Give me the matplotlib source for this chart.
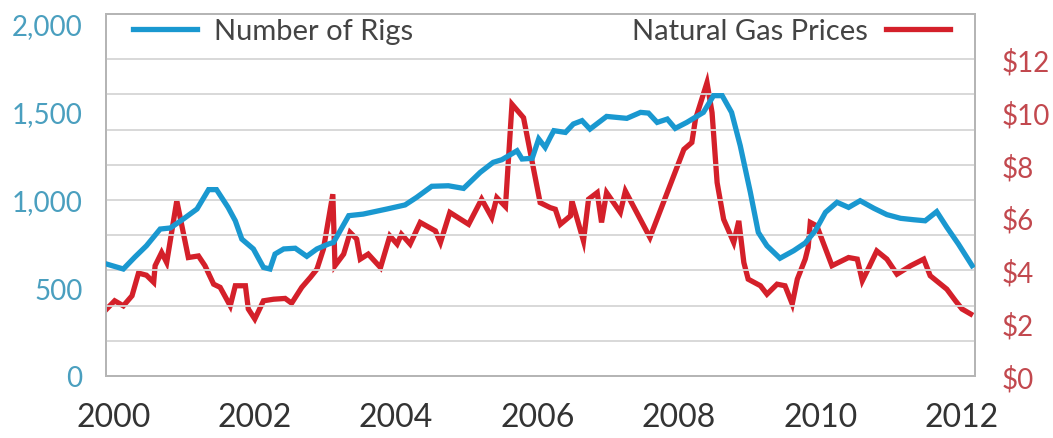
import matplotlib
matplotlib.use("Agg")
import matplotlib.pyplot as plt

plt.rcParams['font.family'] = ['Lato', 'DejaVu Sans']

# Rig count (left axis)
rig_years = [2000.01, 2000.24, 2000.40, 2000.56, 2000.75, 2000.89, 2001.07, 2001.26, 2001.42, 2001.53,
             2001.69, 2001.79, 2001.88, 2002.04, 2002.18, 2002.27, 2002.34, 2002.46, 2002.62, 2002.78,
             2002.92, 2003.08, 2003.15, 2003.36, 2003.56, 2003.89, 2004.14, 2004.30, 2004.51, 2004.74,
             2004.95, 2005.18, 2005.36, 2005.48, 2005.69, 2005.76, 2005.90, 2005.99, 2006.08, 2006.15,
             2006.20, 2006.36, 2006.47, 2006.59, 2006.70, 2006.93, 2007.21, 2007.40, 2007.51, 2007.63,
             2007.77, 2007.88, 2008.04, 2008.27, 2008.41, 2008.53, 2008.66, 2008.78, 2008.92, 2009.03,
             2009.15, 2009.33, 2009.52, 2009.68, 2009.82, 2009.96, 2010.12, 2010.28, 2010.44, 2010.63,
             2010.81, 2011.00, 2011.18, 2011.34, 2011.50, 2011.64, 2011.80, 2011.99]
rig_counts = [636, 608, 676, 740, 835, 841, 892, 949, 1059, 1059,
              958, 882, 778, 722, 617, 608, 693, 722, 726, 680,
              722, 750, 759, 911, 920, 949, 972, 1015, 1078, 1081,
              1066, 1157, 1214, 1229, 1280, 1233, 1237, 1347, 1299, 1356,
              1394, 1384, 1432, 1451, 1403, 1475, 1464, 1498, 1494, 1441,
              1460, 1407, 1441, 1498, 1593, 1593, 1498, 1309, 1044, 816,
              740, 669, 712, 756, 826, 930, 987, 958, 996, 953,
              917, 896, 888, 882, 934, 845, 750, 627]

# Natural gas price in $ (right axis)
gas_years = [2000.01, 2000.12, 2000.24, 2000.36, 2000.45, 2000.56, 2000.66, 2000.68, 2000.77, 2000.84,
             2000.98, 2001.14, 2001.28, 2001.37, 2001.49, 2001.58, 2001.72, 2001.79, 2001.93, 2001.97,
             2002.06, 2002.18, 2002.32, 2002.48, 2002.57, 2002.71, 2002.83, 2002.92, 2003.01, 2003.14,
             2003.17, 2003.29, 2003.38, 2003.47, 2003.52, 2003.63, 2003.80, 2003.93, 2004.03, 2004.09,
             2004.21, 2004.35, 2004.56, 2004.63, 2004.76, 2005.02, 2005.20, 2005.34, 2005.41, 2005.53,
             2005.62, 2005.78, 2006.01, 2006.15, 2006.22, 2006.29, 2006.43, 2006.45, 2006.61, 2006.68,
             2006.80, 2006.86, 2006.93, 2007.12, 2007.19, 2007.53, 2008.00, 2008.11, 2008.16, 2008.32,
             2008.39, 2008.46, 2008.55, 2008.69, 2008.76, 2008.83, 2008.89, 2009.06, 2009.15, 2009.29,
             2009.40, 2009.50, 2009.57, 2009.68, 2009.72, 2009.75, 2009.84, 2010.05, 2010.28, 2010.40,
             2010.47, 2010.56, 2010.67, 2010.81, 2010.95, 2011.14, 2011.32, 2011.41, 2011.64, 2011.76,
             2011.85, 2011.97]
gas_prices = [2.54, 2.85, 2.66, 3.04, 3.90, 3.82, 3.55, 4.18, 4.68, 4.30,
              6.64, 4.49, 4.55, 4.18, 3.48, 3.36, 2.66, 3.42, 3.42, 2.54,
              2.16, 2.85, 2.91, 2.94, 2.76, 3.36, 3.74, 4.05, 4.81, 6.89,
              4.18, 4.62, 5.44, 5.19, 4.43, 4.62, 4.11, 5.31, 5.00, 5.37,
              5.00, 5.82, 5.50, 5.06, 6.20, 5.75, 6.70, 6.01, 6.76, 6.42,
              10.30, 9.79, 6.57, 6.38, 6.32, 5.75, 6.07, 6.64, 5.12, 6.70,
              6.95, 5.82, 6.95, 6.20, 7.01, 5.25, 8.59, 8.85, 9.73, 11.12,
              9.98, 7.33, 5.94, 5.06, 5.88, 4.30, 3.67, 3.42, 3.10, 3.48,
              3.42, 2.73, 3.67, 4.43, 4.87, 5.82, 5.69, 4.18, 4.49, 4.43,
              3.61, 4.11, 4.74, 4.43, 3.86, 4.18, 4.43, 3.80, 3.29, 2.85,
              2.54, 2.35]

year_labels = ["2000", "2002", "2004", "2006", "2008", "2010", "2012"]
rig_ticks = [0, 500, 1000, 1500, 2000]
gas_ticks = [0, 2, 4, 6, 8, 10, 12]

blue = "#1a98d0"
red = "#d4202a"
blue_txt = "#4a9fbf"
red_txt = "#c2484e"

fig = plt.figure(figsize=(10.53, 4.39), dpi=100)
ax = fig.add_axes([106/1053, 1-377/439, (975-106)/1053, (377-15)/439])
ax2 = ax.twinx()

ax.set_zorder(ax2.get_zorder() + 1)
ax.patch.set_visible(False)

# gridlines every 200 rigs
for g in range(200, 2000, 200):
    ax.axhline(g, color="#d6d6d6", lw=1.3, zorder=0)

l1, = ax.plot(rig_years, rig_counts, color=blue, lw=3.8, solid_joinstyle="miter", label="Number of Rigs", zorder=3)
l2, = ax2.plot(gas_years, gas_prices, color=red, lw=3.8, solid_joinstyle="miter", label="Natural Gas Prices")

ax.set_xlim(2000, 2012.03)
ax.set_ylim(0, 2057)
ax2.set_ylim(0, 13.72)

# the year labels in the original sit slightly inside the data range
label_pos = [2000.1 + 1.958 * i for i in range(len(year_labels))]
ax.set_xticks(label_pos)
ax.set_xticklabels(year_labels)
ax.set_yticks(rig_ticks)
ax.set_yticklabels([f"{v:,}" for v in rig_ticks])
ax2.set_yticks(gas_ticks)
ax2.set_yticklabels([f"${v}" for v in gas_ticks])

ax.tick_params(axis="x", length=0, pad=19, labelsize=23, labelcolor="#333333")
ax.tick_params(axis="y", length=0, pad=17, labelsize=20, labelcolor=blue_txt)
ax2.tick_params(axis="y", length=0, pad=19, labelsize=20, labelcolor=red_txt)

for a in (ax, ax2):
    for s in a.spines.values():
        s.set_color("#b5b5b5")
        s.set_linewidth(1.3)

leg1 = ax.legend(handles=[l1], loc="upper left", frameon=False, fontsize=21,
                 handlelength=2.2, handletextpad=0.6, borderaxespad=0.1,
                 bbox_to_anchor=(0.014, 1.03))
for t in leg1.get_texts():
    t.set_color("#444444")
ax.add_artist(leg1)
leg2 = ax.legend(handles=[l2], loc="upper right", frameon=False, fontsize=21,
                 markerfirst=False, handlelength=2.2, handletextpad=0.6, borderaxespad=0.1,
                 bbox_to_anchor=(0.988, 1.03))
for t in leg2.get_texts():
    t.set_color("#444444")

fig.savefig("out.png", dpi=100)
